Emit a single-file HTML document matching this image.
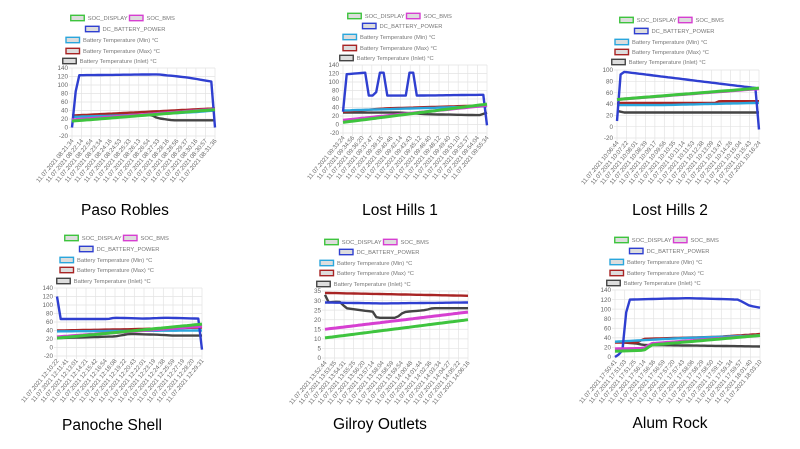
<!DOCTYPE html>
<html><head><meta charset="utf-8"><style>
html,body{margin:0;padding:0;background:#fff;width:800px;height:449px;overflow:hidden}
svg{display:block}
text{font-family:"Liberation Sans",sans-serif}
</style></head><body>
<svg id="s" width="800" height="449" xmlns="http://www.w3.org/2000/svg"></svg>
<script>
const S=document.getElementById('s');let h='';
const C={g:'#3ec43e',p:'#d63fd1',b:'#2f3fd0',c:'#2aa6dc',r:'#a82424',k:'#444'};
function interp(pts,n){const o=[];for(let i=0;i<n;i++){const t=i/(n-1);let k=0;while(k<pts.length-2&&pts[k+1][0]<t)k++;const[a,va]=pts[k],[b,vb]=pts[k+1];const u=b===a?0:Math.min(1,Math.max(0,(t-a)/(b-a)));o.push(va+(vb-va)*u);}return o;}
function chart(c){
 const lx=c.lc, fs=5.8, cw=3.25;
 const row=(y,items)=>{let w=0;items.forEach(it=>w+=16+it[1].length*cw+7);let x=lx-w/2;items.forEach(it=>{h+=`<rect x="${x}" y="${y-2.7}" width="13.5" height="5.4" fill="#ddd" stroke="${C[it[0]]}" stroke-width="1.4"/>`;h+=`<text x="${x+17}" y="${y+2}" font-size="${fs}" fill="#777">${it[1]}</text>`;x+=16+it[1].length*cw+7;});};
 row(c.ly[0],[['g','SOC_DISPLAY'],['p','SOC_BMS']]);
 row(c.ly[1],[['b','DC_BATTERY_POWER']]);
 row(c.ly[2],[['c','Battery Temperature (Min) °C']]);
 row(c.ly[3],[['r','Battery Temperature (Max) °C']]);
 row(c.ly[4],[['k','Battery Temperature (Inlet) °C']]);
 const Y=v=>c.yb+(v-c.ymin)/(c.ymax-c.ymin)*(c.yt-c.yb);
 for(let v=c.ymin;v<=c.ymax+1e-9;v+=c.step){const y=Y(v);h+=`<line x1="${c.x0-3}" x2="${c.x1}" y1="${y}" y2="${y}" stroke="#e3e3e3" stroke-width="0.7"/>`;h+=`<text x="${c.x0-4}" y="${y+2.2}" font-size="6.3" fill="#666" text-anchor="end">${v}</text>`;}
 const nl=c.labels.length;
 for(let i=0;i<nl;i++){const x=c.x0+i*(c.x1-c.x0)/(nl-1);h+=`<line x1="${x}" x2="${x}" y1="${c.yt}" y2="${c.yb+3}" stroke="#e3e3e3" stroke-width="0.7"/>`;h+=`<text transform="translate(${x+2},${c.yb+5}) rotate(-50)" font-size="6" fill="#666" text-anchor="end">${c.labels[i]}</text>`;}
 const N=40;
 ['k','r','c','b','p','g'].forEach(k=>{if(!c.s[k])return;const v=interp(c.s[k],N);let d='';v.forEach((y,i)=>{const x=c.x0+i*(c.x1-c.x0)/(N-1);d+=(i?'L':'M')+x.toFixed(1)+','+Y(y).toFixed(1);});
 const w=(k==='g'||k==='p')?3:2.4;h+=`<path d="${d}" fill="none" stroke="${C[k]}" stroke-width="${w}" stroke-linejoin="round"/>`;});
 h+=`<text x="${c.tx}" y="${c.ty}" font-size="15.5" fill="#000" text-anchor="middle">${c.title}</text>`;
}
function L(d,times){return times.map(t=>'11.07.2021 '+t);}
chart({lc:123,ly:[18,29,40,51,61],x0:72,x1:215,yt:68,yb:136,ymin:-20,ymax:140,step:20,tx:125,ty:215,title:'Paso Robles',
labels:L(0,['08:21:34','08:22:14','08:22:54','08:23:34','08:24:16','08:24:53','08:25:33','08:26:13','08:26:54','08:27:33','08:28:16','08:28:56','08:29:37','08:30:16','08:30:57','08:31:36']),
s:{b:[[0,0],[0.02,70],[0.04,123],[0.6,125],[0.8,118],[0.98,108],[1,0]],g:[[0,15],[1,42]],p:[[0,18],[1,43]],c:[[0,25],[0.5,30],[0.85,36],[1,40]],r:[[0,28],[1,45]],k:[[0,28],[0.55,30],[0.6,22],[0.7,17],[1,17]]}});
chart({lc:400,ly:[16,26,37,48,58],x0:343,x1:487,yt:65,yb:133,ymin:-20,ymax:140,step:20,tx:400,ty:215,title:'Lost Hills 1',
labels:L(0,['09:33:24','09:34:56','09:36:20','09:37:47','09:39:15','09:40:46','09:42:14','09:43:43','09:45:12','09:46:40','09:48:12','09:49:40','09:51:10','09:52:37','09:54:04','09:55:34']),
s:{b:[[0,30],[0.01,118],[0.16,122],[0.165,68],[0.23,68],[0.235,122],[0.3,122],[0.305,68],[0.45,68],[0.455,122],[0.5,122],[0.505,68],[0.98,70],[1,-2]],g:[[0,5],[1,48]],p:[[0,10],[1,45]],c:[[0,33],[1,43]],r:[[0,30],[0.3,38],[1,45]],k:[[0,28],[0.4,28],[0.6,24],[0.95,22],[1,28]]}});
chart({lc:672,ly:[20,31,42,52,62],x0:617,x1:759,yt:70,yb:138,ymin:-20,ymax:100,step:20,tx:670,ty:215,title:'Lost Hills 2',
labels:L(0,['10:06:44','10:07:22','10:08:01','10:08:39','10:09:17','10:09:56','10:10:35','10:11:14','10:11:53','10:12:38','10:13:09','10:13:47','10:14:26','10:15:04','10:15:43','10:16:24']),
s:{b:[[0,10],[0.02,90],[0.04,97],[0.98,68],[1,-5]],g:[[0,48],[1,68]],p:[[0,48],[1,67]],c:[[0,38],[0.3,38],[1,42]],r:[[0,42],[0.7,42],[0.72,45],[1,45]],k:[[0,28],[0.05,25],[1,25]]}});
chart({lc:117,ly:[238,249,260,270,281],x0:57,x1:202,yt:288,yb:356,ymin:-20,ymax:140,step:20,tx:112,ty:430,title:'Panoche Shell',
labels:L(0,['12:10:22','12:11:41','12:13:01','12:14:21','12:15:42','12:16:54','12:18:08','12:19:22','12:20:43','12:22:01','12:23:19','12:24:38','12:25:59','12:27:19','12:28:20','12:29:31']),
s:{b:[[0,120],[0.02,67],[0.35,67],[0.4,70],[0.6,68],[0.75,70],[0.98,68],[1,-5]],g:[[0,22],[1,55]],p:[[0,25],[1,50]],c:[[0,38],[1,40]],r:[[0,40],[0.5,43],[1,47]],k:[[0,22],[0.4,26],[0.5,32],[0.7,30],[0.8,28],[1,28]]}});
chart({lc:377,ly:[242,252,263,273,284],x0:325,x1:468,yt:291,yb:358,ymin:0,ymax:35,step:5,tx:380,ty:429,title:'Gilroy Outlets',
labels:L(0,['13:52:44','13:53:35','13:54:31','13:55:25','13:56:20','13:57:14','13:58:04','13:58:59','13:59:54','14:00:48','14:01:44','14:02:36','14:03:34','14:04:27','14:05:22','14:06:16']),
s:{r:[[0,34],[1,32.5]],b:[[0,29],[0.4,28.5],[1,29]],k:[[0,33],[0.02,29],[0.1,29.5],[0.15,26],[0.25,25],[0.35,24],[0.36,21],[0.5,21],[0.55,24],[0.7,25],[0.75,26],[1,26]],p:[[0,15],[1,24]],g:[[0,10.5],[1,20]]}});
chart({lc:667,ly:[240,251,262,273,283],x0:615,x1:760,yt:290,yb:357,ymin:0,ymax:140,step:20,tx:670,ty:428,title:'Alum Rock',
labels:L(0,['17:50:41','17:51:03','17:51:25','17:56:14','17:56:36','17:56:59','17:57:20','17:57:43','17:58:06','17:58:29','17:58:50','17:59:11','17:59:34','17:59:57','18:01:40','18:03:10']),
s:{b:[[0,0],[0.05,10],[0.08,103],[0.1,120],[0.5,123],[0.85,120],[0.93,107],[1,103]],c:[[0,32],[0.5,40],[1,45]],r:[[0,30],[0.15,30],[0.2,38],[0.7,42],[1,48]],k:[[0,32],[0.15,28],[0.2,25],[0.5,24],[1,22]],g:[[0,12],[0.2,14],[0.25,25],[1,45]],p:[[0,17],[0.2,18],[0.25,28],[1,45]]}});
S.innerHTML=h;
</script>
</body></html>
